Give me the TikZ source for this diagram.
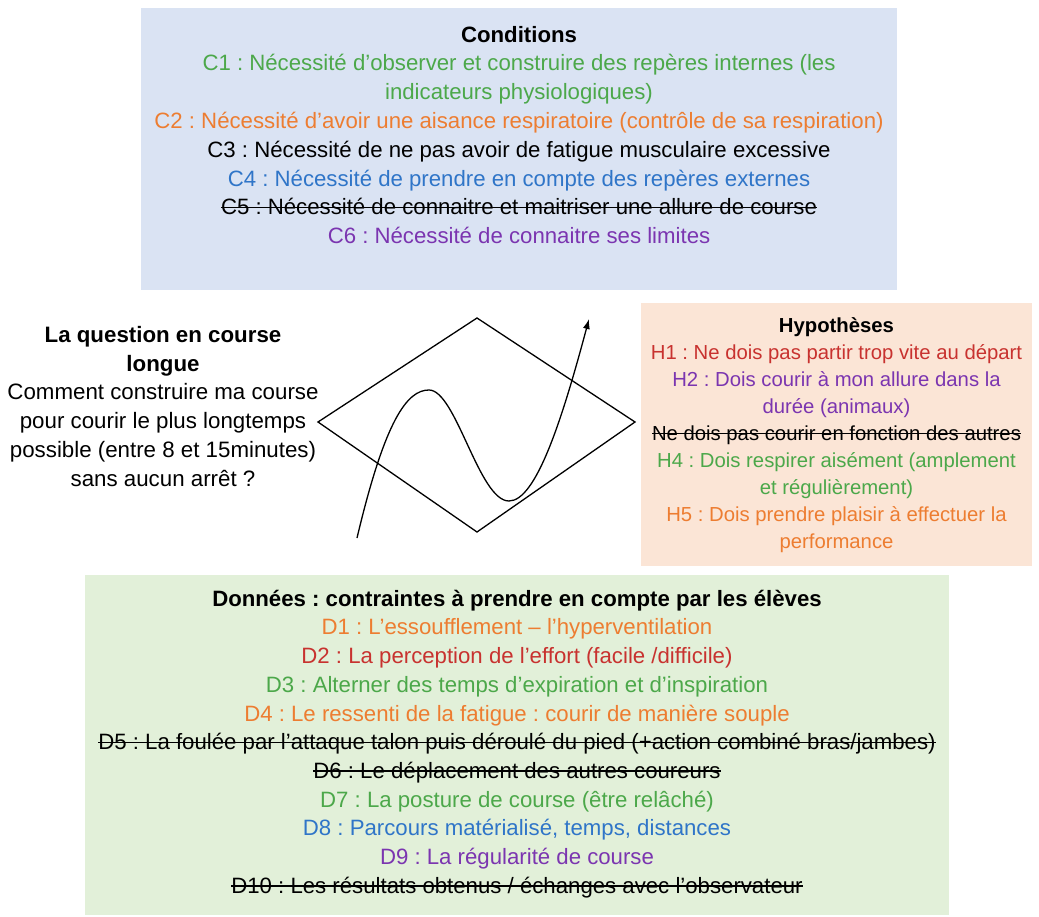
\documentclass[tikz,border=0pt]{standalone}
\usepackage{fontspec}
\setmainfont{Liberation Sans}
\usetikzlibrary{arrows.meta}
\frenchspacing
\newsavebox\strikebox
\newcommand\strikeout[1]{\sbox\strikebox{#1}\rlap{\rule[0.3em]{\wd\strikebox}{0.07em}}\usebox\strikebox}
\definecolor{condfill}{HTML}{DAE3F3}
\definecolor{hypfill}{HTML}{FBE5D6}
\definecolor{donfill}{HTML}{E2F0D9}
\definecolor{txtgreen}{HTML}{4CA84A}
\definecolor{txtorange}{HTML}{ED7D31}
\definecolor{txtblue}{HTML}{2F75C8}
\definecolor{txtpurple}{HTML}{7B35B0}
\definecolor{txtred}{HTML}{C8322F}
\tikzset{
  panel/.style={fill=#1, inner sep=0pt},
  listtext/.style={align=center, inner sep=0pt, anchor=north},
}
\begin{document}
\begin{tikzpicture}[x=1pt,y=-1pt]
    \useasboundingbox (0,0) rectangle (1039,917);
    % panels
    \node [panel=condfill, minimum width=756pt, minimum height=282pt] (cond) at (519,149) {};
    \node [panel=hypfill, minimum width=391pt, minimum height=263pt] (hyp) at (836.5,434.5) {};
    \node [panel=donfill, minimum width=864pt, minimum height=340pt] (don) at (517,745) {};
    % conditions
    \node [listtext, font=\fontsize{22.2}{28.8}\selectfont] (condtxt) at ([yshift=-18pt]cond.north) {%
        \textbf{Conditions}\\
        \color{txtgreen}C1 : Nécessité d’observer et construire des repères internes (les\\
        \color{txtgreen}indicateurs physiologiques)\\
        \color{txtorange}C2 : Nécessité d’avoir une aisance respiratoire (contrôle de sa respiration)\\
        C3 : Nécessité de ne pas avoir de fatigue musculaire excessive\\
        \color{txtblue}C4 : Nécessité de prendre en compte des repères externes\\
        \strikeout{C5 : Nécessité de connaitre et maitriser une allure de course}\\
        \color{txtpurple}C6 : Nécessité de connaitre ses limites};
    % question
    \node [listtext, font=\fontsize{22.3}{28.8}\selectfont] (question) at (163,326) {%
        \textbf{La question en course}\\
        \textbf{longue}\\
        Comment construire ma course\\
        pour courir le plus longtemps\\
        possible (entre 8 et 15minutes)\\
        sans aucun arrêt ?};
    % hypotheses
    \node [listtext, font=\fontsize{20.3}{26.9}\selectfont] (hyptxt) at ([yshift=-15pt]hyp.north) {%
        \textbf{Hypothèses}\\
        \color{txtred}H1 : Ne dois pas partir trop vite au départ\\
        \color{txtpurple}H2 : Dois courir à mon allure dans la\\
        \color{txtpurple}durée (animaux)\\
        \strikeout{Ne dois pas courir en fonction des autres}\\
        \color{txtgreen}H4 : Dois respirer aisément (amplement\\
        \color{txtgreen}et régulièrement)\\
        \color{txtorange}H5 : Dois prendre plaisir à effectuer la\\
        \color{txtorange}performance};
    % donnees
    \node [listtext, font=\fontsize{22.2}{28.7}\selectfont] (dontxt) at ([yshift=-15pt]don.north) {%
        \textbf{Données : contraintes à prendre en compte par les élèves}\\
        \color{txtorange}D1 : L’essoufflement – l’hyperventilation\\
        \color{txtred}D2 : La perception de l’effort (facile /difficile)\\
        \color{txtgreen}D3 : Alterner des temps d’expiration et d’inspiration\\
        \color{txtorange}D4 : Le ressenti de la fatigue : courir de manière souple\\
        \strikeout{D5 : La foulée par l’attaque talon puis déroulé du pied (+action combiné bras/jambes)}\\
        \strikeout{D6 : Le déplacement des autres coureurs}\\
        \color{txtgreen}D7 : La posture de course (être relâché)\\
        \color{txtblue}D8 : Parcours matérialisé, temps, distances\\
        \color{txtpurple}D9 : La régularité de course\\
        \strikeout{D10 : Les résultats obtenus / échanges avec l’observateur}};
    % diamond and run curve
    \draw [line width=1.3pt] (318,422) -- (477,318) -- (635,422) -- (477,532) -- cycle;
    \draw [line width=1.3pt, -{Latex[length=10pt,width=7pt]}] (357,538) .. controls (385,420) and (407,390) .. (429,390)
        .. controls (456,390) and (479,501) .. (509,501)
        .. controls (536,501) and (562,420) .. (589,319);
\end{tikzpicture}
\end{document}
